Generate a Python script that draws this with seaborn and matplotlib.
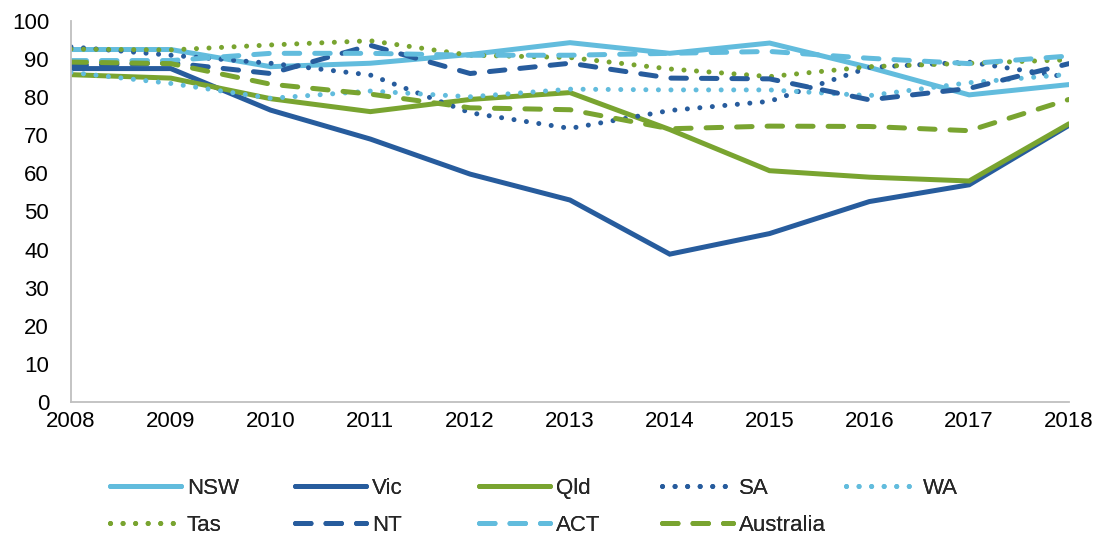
import matplotlib
matplotlib.use("Agg")
import matplotlib.pyplot as plt
import seaborn as sns
import pandas as pd

sns.set_theme(style="white")
plt.rcParams["font.family"] = ["Liberation Sans", "DejaVu Sans"]

years = list(range(2008, 2019))

nsw = [92.5, 92.5, 88.0, 88.9, 91.2, 94.3, 91.5, 94.2, 87.8, 80.6, 83.3]
vic = [87.5, 87.5, 76.6, 69.0, 59.8, 53.0, 38.8, 44.2, 52.6, 57.0, 72.6]
qld = [85.9, 85.0, 79.6, 76.2, 79.4, 81.2, 71.5, 60.7, 59.0, 58.0, 73.0]
sa = [93.2, 91.0, 88.9, 85.8, 75.9, 71.8, 76.5, 78.9, 87.8, 89.2, 85.2]
wa = [86.5, 83.6, 79.7, 81.6, 80.1, 82.1, 81.9, 81.9, 80.4, 83.8, 86.0]
tas = [92.6, 92.4, 93.7, 94.8, 91.0, 90.4, 87.4, 85.4, 88.0, 88.9, 89.8]
nt = [88.3, 89.0, 86.2, 93.6, 86.2, 88.9, 85.0, 84.8, 79.3, 82.3, 88.8]
act = [89.6, 89.6, 91.5, 91.5, 91.0, 91.0, 91.5, 92.0, 90.2, 88.8, 90.8]
australia = [89.2, 88.8, 83.4, 80.8, 77.2, 76.7, 71.7, 72.4, 72.3, 71.2, 79.4]

series = ["NSW", "Vic", "Qld", "SA", "WA", "Tas", "NT", "ACT", "Australia"]
values = [nsw, vic, qld, sa, wa, tas, nt, act, australia]

light = "#62BCDD"
dark = "#275C9D"
green = "#79A430"
colors = [light, dark, green, dark, light, green, dark, light, green]
dotted = (0, (0.01, 2.5))
dashed = (0, (3.1, 3.0))
styles = ["-", "-", "-", dotted, dotted, dotted, dashed, dashed, dashed]

fig, ax = plt.subplots(figsize=(11.02, 5.37), dpi=100)
fig.subplots_adjust(left=0.0644, right=0.970, bottom=0.2514, top=0.961)

for name, vals, col, ls in zip(series, values, colors, styles):
    df = pd.DataFrame({"year": years, "value": vals})
    sns.lineplot(
        data=df, x="year", y="value", ax=ax, color=col, linestyle=ls,
        linewidth=3.6, label=name, dash_capstyle="round",
        solid_capstyle="round", solid_joinstyle="miter",
    )

ax.set_xlim(2008, 2018)
ax.set_ylim(0, 100)
ax.set_xticks(years)
ax.set_yticks(range(0, 101, 10))
ax.set_xlabel("")
ax.set_ylabel("")

for side in ["top", "right"]:
    ax.spines[side].set_visible(False)
for side in ["left", "bottom"]:
    ax.spines[side].set_color("#BFBFBF")
    ax.spines[side].set_linewidth(1.3)

ax.tick_params(axis="both", which="major", labelsize=16, colors="#BFBFBF",
               labelcolor="black", width=1.3, direction="out")
ax.tick_params(axis="x", length=4.5, pad=2)
ax.tick_params(axis="y", length=5.8, pad=10)

# Excel style legend: equal width columns, two rows
handles, labels = ax.get_legend_handles_labels()
ax.get_legend().remove()
col_x = [110, 295, 479, 662, 846]
for i, x0 in enumerate(col_x):
    idx = [i] if i + 5 >= len(series) else [i, i + 5]
    leg = fig.legend(
        [handles[j] for j in idx], [labels[j] for j in idx],
        loc="upper left", bbox_to_anchor=(x0 / 1102, 1 - 478 / 537),
        bbox_transform=fig.transFigure, frameon=False, fontsize=16,
        handlelength=3.2, handletextpad=0.25, labelspacing=0.72,
        borderpad=0, borderaxespad=0,
    )
    fig.add_artist(leg)

fig.savefig("out.png", dpi=100)
